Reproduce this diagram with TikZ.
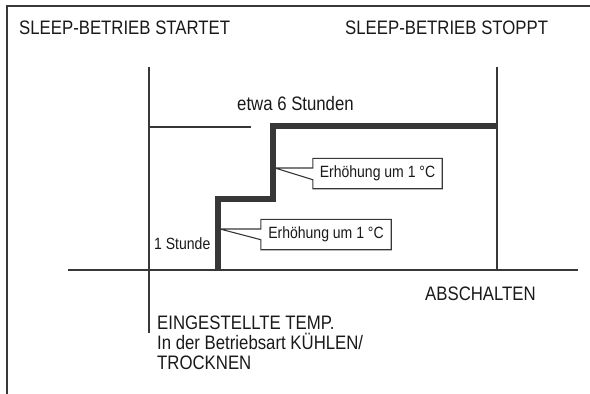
\documentclass[tikz,border=0pt]{standalone}
\usepackage{fontspec}
\setmainfont{Liberation Sans}[FakeStretch=0.86]
\definecolor{linegrey}{RGB}{55,55,55}
\definecolor{textdark}{RGB}{25,25,25}
\begin{document}
\begin{tikzpicture}[x=1pt, y=-1pt,
    lbl/.style={inner sep=0pt, text=textdark, font=\fontsize{19.5}{20}\selectfont},
    smalllbl/.style={inner sep=0pt, text=textdark, font=\fontsize{16.3}{17}\selectfont},
    bubble/.style={smalllbl, minimum height=30pt},
    pointer/.style={draw=linegrey, line width=1.1pt, line join=miter},
    axis/.style={draw=linegrey, line width=2.4pt},
    setpoint/.style={draw=linegrey, line width=5.5pt, line join=miter}]
    \useasboundingbox (0,0) rectangle (590,394);

    % Frame (only top and left edge visible)
    \draw[linegrey, line width=1.2pt] (7,394) -- (7,6) -- (590,6);

    % Start / stop marks and time axis
    \coordinate (start top) at (149,67);
    \coordinate (start bottom) at (149,333);
    \coordinate (stop top) at (497,67);
    \coordinate (stop bottom) at (497,270);
    \coordinate (axis left) at (68,270);
    \coordinate (axis right) at (578,270);
    \draw[axis] (start top) -- (start bottom);
    \draw[axis] (stop top) -- (stop bottom);
    \draw[axis] (axis left) -- (axis right);

    % Duration mark
    \coordinate (dur a) at (149,127);
    \coordinate (dur b) at (251,127);
    \draw[axis] (dur a) -- (dur b);

    % Set temperature, rising in two steps
    \coordinate (s0) at (218,270);
    \coordinate (s1) at (218,199);
    \coordinate (s2) at (273,199);
    \coordinate (s3) at (273,126);
    \coordinate (s4) at (497,126);
    \draw[setpoint] (s0) -- (s1) -- (s2) -- (s3) -- (s4);

    % Labels
    \node[lbl, anchor=base west] (start label) at (19,34) {SLEEP-BETRIEB STARTET};
    \node[lbl, anchor=base west] (stop label) at (345,34) {SLEEP-BETRIEB STOPPT};
    \node[lbl, anchor=base west] (duration) at (237,110) {etwa 6 Stunden};
    \node[smalllbl, anchor=base west] (hour) at (154,249.8) {1 Stunde};
    \node[lbl, anchor=base west] (off) at (425,300) {ABSCHALTEN};
    \node[lbl, anchor=north west, align=left] (setting) at (157,316)
        {EINGESTELLTE TEMP.\\In der Betriebsart KÜHLEN/\\TROCKNEN};

    % Callouts
    \node[bubble, minimum width=129pt] (rise upper) at (377.5,173.5) {Erhöhung um 1 °C};
    \coordinate (tip upper) at (275,168);
    \draw[pointer] (tip upper) -- (tip upper -| rise upper.west) -- (rise upper.north west)
        -- (rise upper.north east) -- (rise upper.south east) -- (rise upper.south west)
        -- ([yshift=9pt]rise upper.south west) -- (tip upper);

    \node[bubble, minimum width=130pt] (rise lower) at (326,234.5) {Erhöhung um 1 °C};
    \coordinate (tip lower) at (220,229);
    \draw[pointer] (tip lower) -- (tip lower -| rise lower.west) -- (rise lower.north west)
        -- (rise lower.north east) -- (rise lower.south east) -- (rise lower.south west)
        -- ([yshift=10pt]rise lower.south west) -- (tip lower);
\end{tikzpicture}
\end{document}
